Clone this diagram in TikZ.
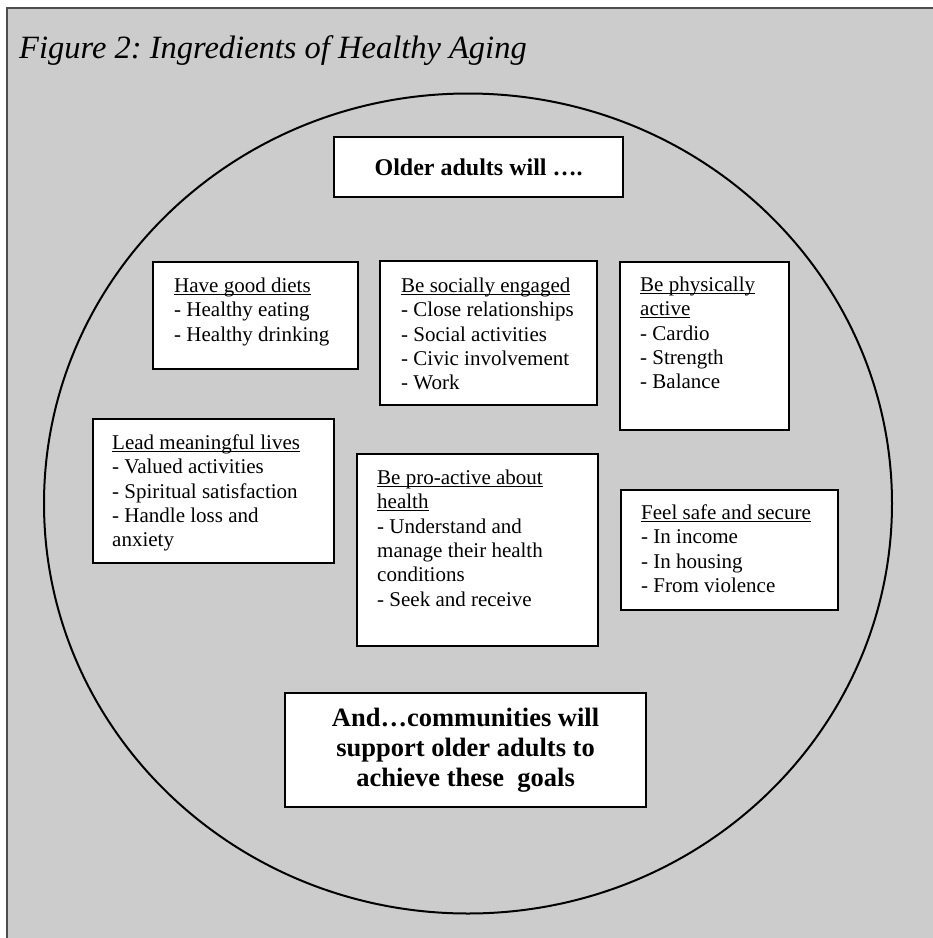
\documentclass[tikz,border=0pt]{standalone}
\usepackage{fontspec}
\setmainfont{Liberation Serif}
\usetikzlibrary{calc}

\definecolor{paneGray}{HTML}{CCCCCC}
\definecolor{paneEdge}{HTML}{4D4D4D}

\newsavebox{\ulbox}
\newcommand{\headUL}[1]{\sbox{\ulbox}{#1}\rlap{\usebox{\ulbox}}\rule[-2.6pt]{\wd\ulbox}{1.3pt}}
\frenchspacing

\begin{document}
\begin{tikzpicture}[x=1pt, y=-1pt,
        goalBox/.style={
                draw, fill=white, line width=2.2pt,
                anchor=north west, inner sep=0pt
            },
        goalText/.style={
                anchor=north west, align=left, inner sep=0pt,
                font=\fontsize{21}{24.4}\selectfont
            },
        keyBox/.style={
                draw, fill=white, line width=2.2pt,
                anchor=north west, inner sep=0pt, align=center
            },
        ringLine/.style={line width=2pt}
    ]
    \useasboundingbox (0,0) rectangle (933,938);

    % grey panel with its edge
    \fill[paneGray] (7,8) rectangle (933,938);
    \draw[paneEdge, line width=2pt] (7,938) -- (7,8) -- (933,8);

    \node[anchor=base west, inner sep=0pt, font=\fontsize{32.5}{38}\selectfont\itshape] (title) at (19,58)
        {Figure 2: Ingredients of Healthy Aging};

    % the big ring
    \draw[ringLine] (468,503.5) ellipse [x radius=424pt, y radius=410pt];

    % heading box
    \node[keyBox, minimum width=289pt, minimum height=60pt, font=\fontsize{24}{27.6}\selectfont\bfseries] (older) at (333,136)
        {Older adults will \dots.};

    % the goal boxes
    \node[goalBox, minimum width=205pt, minimum height=107pt] (diets) at (152,261) {};
    \node[goalText] (dietsText) at ($(diets.north west)+(22pt,-14pt)$)
        {\strut\headUL{Have good diets}\\- Healthy eating\\- Healthy drinking};

    \node[goalBox, minimum width=217pt, minimum height=144pt] (social) at (379,260) {};
    \node[goalText] (socialText) at ($(social.north west)+(22pt,-15pt)$)
        {\strut\headUL{Be socially engaged}\\- Close relationships\\- Social activities\\- Civic involvement\\- Work};

    \node[goalBox, minimum width=169pt, minimum height=168pt] (physical) at (619,261) {};
    \node[goalText] (physicalText) at ($(physical.north west)+(21pt,-13pt)$)
        {\strut\headUL{Be physically}\\\headUL{active}\\- Cardio\\- Strength\\- Balance};

    \node[goalBox, minimum width=241pt, minimum height=144pt] (meaning) at (92,418) {};
    \node[goalText] (meaningText) at ($(meaning.north west)+(20pt,-14pt)$)
        {\strut\headUL{Lead meaningful lives}\\- Valued activities\\- Spiritual satisfaction\\- Handle loss and\\anxiety};

    \node[goalBox, minimum width=241pt, minimum height=192pt] (proactive) at (356,453) {};
    \node[goalText] (proactiveText) at ($(proactive.north west)+(21pt,-14pt)$)
        {\strut\headUL{Be pro-active about}\\\headUL{health}\\- Understand and\\manage their health\\conditions\\- Seek and receive};

    \node[goalBox, minimum width=217pt, minimum height=120pt] (safe) at (620,489) {};
    \node[goalText] (safeText) at ($(safe.north west)+(21pt,-13pt)$)
        {\strut\headUL{Feel safe and secure}\\- In income\\- In housing\\- From violence};

    % closing box
    \node[keyBox, minimum width=361pt, minimum height=114pt, font=\fontsize{26.5}{30.2}\selectfont\bfseries] (communities) at (284,692)
        {And\dots communities will\\support older adults to\\achieve these\ \ goals};
\end{tikzpicture}
\end{document}
